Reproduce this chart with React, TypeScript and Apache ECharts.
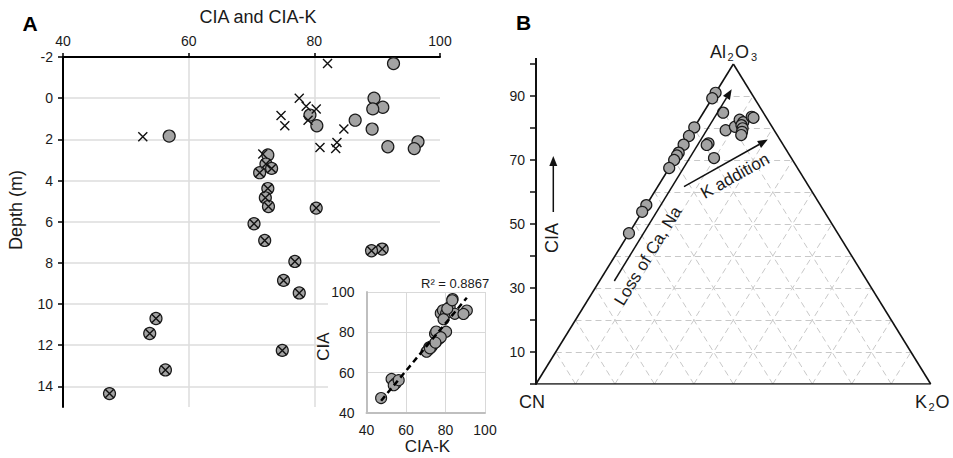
import React, { useEffect, useRef } from 'react';
import * as echarts from 'echarts';

// ---------- Panel A data (depth in m, CIA and CIA-K values) ----------
const depthCIA = [-1.68, 0.0, 0.44, 0.52, 0.82, 1.07, 1.34, 1.5, 1.84, 2.12, 2.36, 2.45, 2.76, 3.2, 3.41, 3.62, 4.39, 4.84, 5.26, 5.34, 6.1, 6.91, 7.33, 7.41, 7.93, 8.85, 9.46, 10.7, 11.43, 12.25, 13.2, 14.35];
const cia = [92.6, 89.5, 90.9, 89.3, 79.3, 86.5, 80.4, 89.2, 56.9, 96.5, 91.7, 95.9, 72.6, 72.3, 73.2, 71.3, 72.6, 72.2, 72.7, 80.3, 70.4, 72.1, 90.8, 89.1, 76.9, 75.1, 77.6, 54.8, 53.8, 74.9, 56.3, 47.4];
const depthCIAK = [-1.68, 0.0, 0.39, 0.53, 0.84, 1.07, 1.34, 1.5, 1.87, 2.15, 2.39, 2.45, 2.71, 3.2, 3.41, 3.62, 4.39, 4.84, 5.26, 5.34, 6.1, 6.91, 7.33, 7.41, 7.93, 8.85, 9.46, 10.7, 11.43, 12.25, 13.2, 14.35];
const ciaK = [82.1, 77.6, 78.7, 80.3, 74.7, 79.0, 75.3, 84.7, 52.7, 83.6, 80.9, 83.4, 71.8, 72.3, 73.2, 71.3, 72.6, 72.2, 72.7, 80.3, 70.4, 72.1, 90.8, 89.1, 76.9, 75.1, 77.6, 54.8, 53.8, 74.9, 56.3, 47.4];
const r2Label = 'R² = 0.8867';

// ---------- Panel B data (ternary: Al2O3 % and K2O %; CN = 100 - A - K) ----------
const terA = [91.0, 89.3, 80.2, 77.5, 74.8, 72.3, 71.4, 70.0, 67.5, 55.9, 53.8, 47.1, 84.8, 75.2, 74.7, 70.6, 79.3, 80.4, 82.6, 81.8, 80.9, 79.9, 78.8, 77.8, 83.5, 83.2];
const terK = [0, 0, 0, 0, 0, 0, 0, 0, 0, 0, 0, 0, 5.0, 6.1, 5.9, 9.8, 8.4, 10.2, 10.3, 11.6, 11.6, 12.4, 12.8, 13.1, 12.9, 13.5];
const terTicks = [10, 20, 30, 40, 50, 60, 70, 80, 90];

const FONT = '"Liberation Sans", Arial, Helvetica, sans-serif';
const TXT = '#1a1a1a';
const GRAY_FILL = '#a3a3a3';
const EDGE = '#1a1a1a';

function txt(text: string, x: number, y: number, size: number, opts: any = {}) {
  return {
    type: 'text',
    x,
    y,
    rotation: opts.rotation || 0,
    z: 20,
    style: {
      text,
      fill: opts.fill || TXT,
      font: `${opts.bold ? 'bold ' : ''}${size}px ${FONT}`,
      align: opts.align || 'center',
      verticalAlign: 'middle',
      textAlign: opts.align || 'center',
      textVerticalAlign: 'middle',
    },
  };
}

function arrow(x1: number, y1: number, x2: number, y2: number, headLen = 10, headW = 8) {
  const dx = x2 - x1;
  const dy = y2 - y1;
  const L = Math.hypot(dx, dy);
  const ux = dx / L;
  const uy = dy / L;
  const bx = x2 - ux * headLen;
  const by = y2 - uy * headLen;
  const px = -uy;
  const py = ux;
  return [
    { type: 'line', z: 20, shape: { x1, y1, x2: bx, y2: by }, style: { stroke: '#111', lineWidth: 1.5 } },
    {
      type: 'polygon',
      z: 20,
      shape: { points: [[x2, y2], [bx + (px * headW) / 2, by + (py * headW) / 2], [bx - (px * headW) / 2, by - (py * headW) / 2]] },
      style: { fill: '#111' },
    },
  ];
}

function buildOption(): any {
  // Linear fit CIA vs CIA-K for the inset trend line
  const n = ciaK.length;
  const mx = ciaK.reduce((s, v) => s + v, 0) / n;
  const my = cia.reduce((s, v) => s + v, 0) / n;
  let sxy = 0;
  let sxx = 0;
  for (let i = 0; i < n; i++) {
    sxy += (ciaK[i] - mx) * (cia[i] - my);
    sxx += (ciaK[i] - mx) * (ciaK[i] - mx);
  }
  const b = sxy / sxx;
  const a = my - b * mx;
  const xLo = Math.min(...ciaK);
  const xHi = Math.max(...ciaK);

  // Ternary grid lines in (x = K + A/2, y = A) coordinates
  const gridLines: any[] = [];
  terTicks.forEach((t) => {
    gridLines.push({ coords: [[t / 2, t], [100 - t / 2, t]] }); // constant A
    gridLines.push({ coords: [[t, 0], [t + (100 - t) / 2, 100 - t]] }); // constant K
    gridLines.push({ coords: [[100 - t, 0], [(100 - t) / 2, 100 - t]] }); // constant CN
  });
  const triangle = [
    { coords: [[0, 0], [50, 100]] },
    { coords: [[50, 100], [100, 0]] },
    { coords: [[0, 0], [100, 0]] },
  ];

  const crossPath = 'path://M0,0L10,10M10,0L0,10';

  const graphics: any[] = [
    { type: 'rect', z: 1, shape: { x: 328, y: 272, width: 172, height: 186 }, style: { fill: '#fff' } },
    txt('A', 30, 23, 21, { bold: true, fill: '#000' }),
    txt('CIA and CIA-K', 258, 17, 18),
    txt('Depth (m)', 16, 210, 18, { rotation: Math.PI / 2 }),
    txt(r2Label, 421, 283, 13, { align: 'left' }),
    txt('CIA', 323.5, 346.5, 17, { rotation: Math.PI / 2 }),
    txt('CIA-K', 427.5, 446, 17),
    txt('B', 523.5, 22, 21, { bold: true, fill: '#000' }),
    txt('Al', 718, 51.5, 18),
    txt('2', 730.5, 56.5, 11),
    txt('O', 742, 51.5, 18),
    txt('3', 754, 56.5, 11),
    txt('CN', 532, 402, 18),
    txt('K', 921, 402, 18),
    txt('2', 931.5, 407, 11),
    txt('O', 942.5, 402, 18),
    txt('CIA', 552, 238, 18, { rotation: Math.PI / 2 }),
    txt('Loss of Ca, Na', 648, 256, 17, { rotation: (58.3 * Math.PI) / 180 }),
    txt('K addition', 735, 176, 17, { rotation: (29.3 * Math.PI) / 180 }),
    { type: 'line', z: 20, shape: { x1: 536, y1: 58, x2: 536, y2: 65 }, style: { stroke: '#111', lineWidth: 2 } },
    ...arrow(553.3, 212, 553.3, 156),
    ...arrow(614.3, 281, 731.7, 89.3),
    ...arrow(684, 186.7, 767.8, 139.6),
  ];

  const tickLabel = { fontSize: 14, color: TXT, fontFamily: FONT };

  return {
    animation: false,
    backgroundColor: '#fff',
    textStyle: { fontFamily: FONT },
    grid: [
      { left: 63, top: 57, width: 377, height: 350 },
      { left: 366.5, top: 292, width: 118.5, height: 121 },
      { left: 536, top: 64, width: 394.7, height: 320 },
    ],
    xAxis: [
      {
        gridIndex: 0,
        type: 'value',
        position: 'top',
        min: 40,
        max: 100,
        interval: 20,
        axisLine: { show: true, onZero: false, lineStyle: { color: '#000', width: 2 } },
        axisTick: { show: true, length: 4, lineStyle: { color: '#000', width: 1.5 } },
        axisLabel: { ...tickLabel, margin: 9 },
        splitLine: { show: true, showMinLine: false, showMaxLine: false, lineStyle: { color: '#dcdcdc', width: 1.5 } },
      },
      {
        gridIndex: 1,
        type: 'value',
        min: 40,
        max: 100,
        interval: 20,
        z: 5,
        axisLine: { show: true, onZero: false, lineStyle: { color: '#bfbfbf', width: 2 } },
        axisTick: { show: false },
        axisLabel: { ...tickLabel, margin: 10 },
        splitLine: { show: true, showMinLine: false, lineStyle: { color: '#d9d9d9', width: 1 } },
      },
      { gridIndex: 2, type: 'value', min: 0, max: 100, show: false },
    ],
    yAxis: [
      {
        gridIndex: 0,
        type: 'value',
        inverse: true,
        min: -2,
        max: 15,
        interval: 2,
        axisLine: { show: true, onZero: false, lineStyle: { color: '#000', width: 2 } },
        axisTick: { show: true, length: 5, lineStyle: { color: '#000', width: 1.5 } },
        axisLabel: { ...tickLabel, margin: 10, showMaxLabel: false },
        splitLine: { show: true, showMinLine: false, showMaxLine: false, lineStyle: { color: '#dcdcdc', width: 1.5 } },
      },
      {
        gridIndex: 1,
        type: 'value',
        min: 40,
        max: 100,
        interval: 20,
        z: 5,
        axisLine: { show: true, onZero: false, lineStyle: { color: '#bfbfbf', width: 2 } },
        axisTick: { show: false },
        axisLabel: { ...tickLabel, margin: 12 },
        splitLine: { show: true, showMinLine: false, lineStyle: { color: '#d9d9d9', width: 1 } },
      },
      {
        gridIndex: 2,
        type: 'value',
        min: 0,
        max: 100,
        interval: 10,
        axisLine: { show: true, onZero: false, lineStyle: { color: '#111', width: 2 } },
        axisTick: { show: true, length: 6, lineStyle: { color: '#111', width: 1.5 } },
        axisLabel: { ...tickLabel, margin: 11, formatter: (v: number) => (v % 20 === 10 ? String(v) : '') },
        splitLine: { show: false },
      },
    ],
    series: [
      {
        type: 'scatter',
        xAxisIndex: 0,
        yAxisIndex: 0,
        z: 3,
        symbol: 'circle',
        symbolSize: 12,
        itemStyle: { color: GRAY_FILL, borderColor: EDGE, borderWidth: 1.2, opacity: 1 },
        data: cia.map((v, i) => [v, depthCIA[i]]),
      },
      {
        type: 'scatter',
        xAxisIndex: 0,
        yAxisIndex: 0,
        z: 4,
        symbol: crossPath,
        symbolSize: 9,
        itemStyle: { color: 'rgba(0,0,0,0)', borderColor: '#111', borderWidth: 1.4, opacity: 1 },
        data: ciaK.map((v, i) => [v, depthCIAK[i]]),
      },
      {
        type: 'scatter',
        xAxisIndex: 1,
        yAxisIndex: 1,
        z: 6,
        symbol: 'circle',
        symbolSize: 11,
        itemStyle: { color: GRAY_FILL, borderColor: EDGE, borderWidth: 1.1, opacity: 1 },
        data: ciaK.map((v, i) => [v, cia[i]]),
      },
      {
        type: 'line',
        xAxisIndex: 1,
        yAxisIndex: 1,
        z: 7,
        showSymbol: false,
        symbol: 'none',
        lineStyle: { color: '#000', width: 2.5, type: [6, 4] },
        data: [
          [xLo, a + b * xLo],
          [xHi, a + b * xHi],
        ],
      },
      {
        type: 'lines',
        coordinateSystem: 'cartesian2d',
        xAxisIndex: 2,
        yAxisIndex: 2,
        z: 3,
        silent: true,
        lineStyle: { color: '#c8c8c8', width: 1, type: [6, 4], opacity: 1 },
        data: gridLines,
      },
      {
        type: 'lines',
        coordinateSystem: 'cartesian2d',
        xAxisIndex: 2,
        yAxisIndex: 2,
        z: 4,
        silent: true,
        lineStyle: { color: '#111', width: 1.6, type: 'solid', opacity: 1 },
        data: triangle,
      },
      {
        type: 'scatter',
        xAxisIndex: 2,
        yAxisIndex: 2,
        z: 6,
        symbol: 'circle',
        symbolSize: 11,
        itemStyle: { color: GRAY_FILL, borderColor: EDGE, borderWidth: 1.2, opacity: 1 },
        data: terA.map((A, i) => [terK[i] + A / 2, A]),
      },
    ],
    graphic: { elements: graphics },
  };
}

export default function App() {
  const ref = useRef<HTMLDivElement>(null);
  useEffect(() => {
    if (!ref.current) return;
    const chart = echarts.init(ref.current, null, { renderer: 'svg' });
    chart.setOption(buildOption());
    return () => chart.dispose();
  }, []);
  return (
    <div
      ref={ref}
      style={{ position: 'fixed', left: 0, top: 0, width: 953, height: 458, background: '#fff' }}
    />
  );
}
